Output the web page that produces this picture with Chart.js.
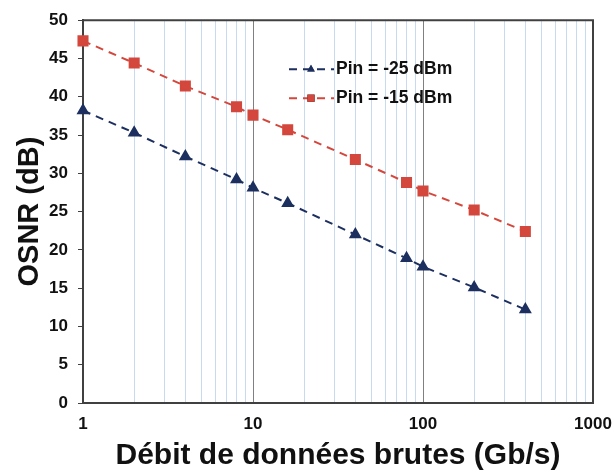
<!DOCTYPE html>
<html>
<head>
<meta charset="utf-8">
<script src="https://cdn.jsdelivr.net/npm/chart.js@4"></script>
<style>
  html, body { margin: 0; padding: 0; background: #ffffff; }
  #wrap { width: 614px; height: 473px; }
</style>
</head>
<body>
<div id="wrap"><canvas id="osnrChart" width="614" height="473"></canvas></div>
<script>
// data
const rates = [1, 2, 4, 8, 10, 16, 40, 80, 100, 200, 400];
const osnrPin25 = [38.2, 35.3, 32.2, 29.2, 28.1, 26.1, 22.0, 18.9, 17.8, 15.1, 12.2];
const osnrPin15 = [47.3, 44.4, 41.4, 38.7, 37.6, 35.7, 31.8, 28.8, 27.7, 25.2, 22.4];
const seriesLabels = ["Pin = -25 dBm", "Pin = -15 dBm"];
const xGridTicks = [1, 2, 3, 4, 5, 6, 7, 8, 9, 10, 20, 30, 40, 50, 60, 70, 80, 90,
                    100, 200, 300, 400, 500, 600, 700, 800, 900, 1000];
const xLabelTicks = [1, 10, 100, 1000];

const blue = "#1c2f5f";
const red = "#d4473c";

function toPoints(values) {
    return rates.map((r, i) => ({ x: r, y: values[i] }));
}

// draws the top/right frame and the legend inside the plot
const framePlugin = {
    id: "frame",
    afterDraw(chart) {
        const ctx = chart.ctx;
        const a = chart.chartArea;
        ctx.save();
        ctx.strokeStyle = "#404040";
        ctx.lineWidth = 2;
        ctx.beginPath();
        ctx.moveTo(a.left, a.top);
        ctx.lineTo(a.right, a.top);
        ctx.lineTo(a.right, a.bottom);
        ctx.stroke();

        // legend
        const x0 = a.left + 206;
        const rows = [a.top + 49, a.top + 78];
        chart.data.datasets.forEach((ds, i) => {
            const y = rows[i];
            ctx.strokeStyle = ds.borderColor;
            ctx.lineWidth = 2;
            ctx.setLineDash([8, 6]);
            ctx.beginPath();
            ctx.moveTo(x0, y);
            ctx.lineTo(x0 + 45, y);
            ctx.stroke();
            ctx.setLineDash([]);
            Chart.helpers.drawPoint(ctx, {
                pointStyle: ds.pointStyle,
                radius: ds.pointRadius * 0.8,
                borderWidth: 0
            }, x0 + 22, y);
            ctx.fillStyle = ds.pointBackgroundColor;
            ctx.fill();
            ctx.fillStyle = "#111111";
            ctx.font = "bold 17.5px 'Liberation Sans', Arial, sans-serif";
            ctx.textBaseline = "middle";
            ctx.textAlign = "left";
            ctx.fillText(ds.label, x0 + 47, y);
        });
        ctx.restore();
    }
};

const ctx = document.getElementById("osnrChart").getContext("2d");

new Chart(ctx, {
    type: "line",
    data: {
        datasets: [
            {
                label: seriesLabels[0],
                data: toPoints(osnrPin25),
                borderColor: blue,
                backgroundColor: blue,
                pointBackgroundColor: blue,
                pointBorderColor: blue,
                pointStyle: "triangle",
                pointRadius: 5.5,
                borderWidth: 2,
                borderDash: [8, 6],
                fill: false,
                clip: false,
                tension: 0
            },
            {
                label: seriesLabels[1],
                data: toPoints(osnrPin15),
                borderColor: red,
                backgroundColor: red,
                pointBackgroundColor: red,
                pointBorderColor: red,
                pointStyle: "rect",
                pointRadius: 6.4,
                borderWidth: 2,
                borderDash: [8, 6],
                fill: false,
                clip: false,
                tension: 0
            }
        ]
    },
    options: {
        responsive: false,
        animation: false,
        layout: { padding: { top: 19, right: 21, bottom: 0, left: 0 } },
        plugins: {
            legend: { display: false },
            tooltip: { enabled: false }
        },
        scales: {
            x: {
                type: "logarithmic",
                min: 1,
                max: 1000,
                afterBuildTicks(scale) {
                    scale.ticks = xGridTicks.map(v => ({ value: v, major: xLabelTicks.includes(v) }));
                },
                afterFit(scale) {
                    scale.height = 70;
                    scale.paddingLeft = 0;
                    scale.paddingRight = 0;
                },
                ticks: {
                    autoSkip: false,
                    maxRotation: 0,
                    padding: 11,
                    color: "#111111",
                    font: { family: "'Liberation Sans', Arial, sans-serif", size: 17, weight: "bold" },
                    callback(value) {
                        return xLabelTicks.includes(value) ? String(value) : "";
                    }
                },
                grid: {
                    drawTicks: false,
                    lineWidth: 1,
                    color(c) {
                        const v = c.tick ? c.tick.value : 0;
                        return xLabelTicks.includes(v) ? "#808080" : "#c8daf0";
                    }
                },
                border: { color: "#404040", width: 2 },
                title: {
                    display: true,
                    text: "Débit de données brutes (Gb/s)",
                    color: "#111111",
                    font: { family: "'Liberation Sans', Arial, sans-serif", size: 30, weight: "bold", lineHeight: 1 },
                    padding: { top: 0, bottom: 2 }
                }
            },
            y: {
                min: 0,
                max: 50,
                afterFit(scale) {
                    scale.width = 83;
                },
                ticks: {
                    stepSize: 5,
                    padding: 10,
                    color: "#111111",
                    font: { family: "'Liberation Sans', Arial, sans-serif", size: 17, weight: "bold" }
                },
                grid: {
                    drawOnChartArea: false,
                    drawTicks: true,
                    tickLength: 5,
                    color: "#404040"
                },
                border: { color: "#404040", width: 2 },
                title: {
                    display: true,
                    text: "OSNR (dB)",
                    color: "#111111",
                    font: { family: "'Liberation Sans', Arial, sans-serif", size: 29, weight: "bold", lineHeight: 1 },
                    padding: { top: 15, bottom: 0 }
                }
            }
        }
    },
    plugins: [framePlugin]
});
</script>
</body>
</html>
